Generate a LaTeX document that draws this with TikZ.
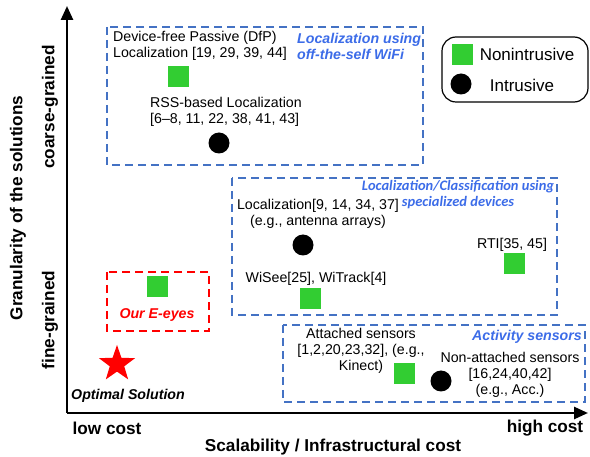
\documentclass[tikz,border=0pt]{standalone}
\usepackage{fontspec}
\setmainfont{Liberation Sans}
\newfontfamily\calibrilike{Carlito}
\usetikzlibrary{shapes.geometric,arrows.meta}
\definecolor{boxblue}{RGB}{68,114,196}
\definecolor{labelblue}{RGB}{60,108,232}
\definecolor{limegreen}{RGB}{50,205,50}

\begin{document}
\begin{tikzpicture}[x=1pt, y=-1pt,
    every node/.style = {font=\fontsize{14.2}{16}\selectfont, align=center, inner sep=0pt},
    nonintr/.style = {fill=limegreen, minimum size=21pt},
    intr/.style = {circle, fill=black, minimum size=21pt},
    group/.style = {draw=boxblue, dash pattern=on 8pt off 5pt, line width=1.3pt},
    ours/.style = {draw=red, dash pattern=on 8pt off 5pt, line width=1.3pt},
    grouplabel/.style = {text=labelblue, font=\fontsize{14.2}{16}\selectfont\bfseries\itshape},
    axislabel/.style = {font=\fontsize{17.2}{20}\selectfont\bfseries},
    legendtext/.style = {font=\fontsize{17}{20}\selectfont},
    axis/.style = {line width=2.6pt, -{Triangle[length=14pt,width=12pt]}}]
    \useasboundingbox (0,0) rectangle (590,457);

    % axes
    \coordinate (origin) at (67,413);
    \coordinate (ytip) at (67,6);
    \coordinate (xtip) at (588,413);
    \draw[axis] (origin) -- (ytip);
    \draw[axis] (origin) -- (xtip);
    \node[axislabel] (lowcost) at (107,428) {low cost};
    \node[axislabel] (highcost) at (545,428) {high cost};
    \node[axislabel] (xlabel) at (333,447) {Scalability / Infrastructural cost};
    \node[axislabel, rotate=90] (ylabel) at (18,208) {Granularity of the solutions};
    \node[axislabel, rotate=90] (coarse) at (50,107) {coarse-grained};
    \node[axislabel, rotate=90] (fine) at (50,320) {fine-grained};

    % off-the-shelf WiFi
    \draw[group] (107,27) rectangle (423,165);
    \node[anchor=west, align=left] (dfp) at (113,46) {Device-free Passive (DfP)\\Localization [19, 29, 39, 44]};
    \node[nonintr] (dfpmark) at (178,77) {};
    \node[anchor=west, align=left] (rss) at (150,112) {RSS-based Localization\\{[6--8, 11, 22, 38, 41, 43]}};
    \node[intr] (rssmark) at (219,143) {};
    \node[grouplabel, anchor=west, align=left] (wifi) at (297,46) {Localization using\\off-the-self WiFi};

    % legend
    \draw[line width=1.2pt, rounded corners=14pt] (442,37) rectangle (588,102);
    \node[nonintr] (legsq) at (462,55) {};
    \node[legendtext] (legsqtext) at (527,54) {Nonintrusive};
    \node[intr] (legci) at (461,84) {};
    \node[legendtext] (legcitext) at (522,85) {Intrusive};

    % specialized devices
    \draw[group] (232,178) rectangle (557,315);
    \node[grouplabel, font=\fontsize{14.5}{16}\calibrilike\bfseries\itshape] (special) at (458,195) {Localization/Classification using\\specialized devices};
    \node (array) at (318,214) {Localization[9, 14, 34, 37]\\(e.g., antenna arrays)};
    \node[intr] (arraymark) at (303,245) {};
    \node (rti) at (512,245) {RTI[35, 45]};
    \node[nonintr] (rtimark) at (514,264) {};
    \node (wisee) at (316,279) {WiSee[25], WiTrack[4]};
    \node[nonintr] (wiseemark) at (310,299) {};

    % ours
    \draw[ours] (107,272) rectangle (209,331);
    \node[nonintr] (eeyesmark) at (157,287) {};
    \node[font=\fontsize{14.2}{16}\selectfont\bfseries\itshape, text=red] (eeyes) at (157,315) {Our E-eyes};
    \node[star, star points=5, star point ratio=2.5, fill=red, minimum size=38pt] (optimal) at (117,364) {};
    \node[font=\fontsize{14.2}{16}\selectfont\bfseries\itshape] (optimaltext) at (128,396) {Optimal Solution};

    % activity sensors
    \draw[group] (283,325) rectangle (585,402);
    \node (attached) at (361,351) {Attached sensors\\{[1,2,20,23,32], (e.g.,}\\Kinect)};
    \node[nonintr] (attachedmark) at (404,374) {};
    \node[intr] (nonattachedmark) at (441,381) {};
    \node[grouplabel] (activity) at (527,337) {Activity sensors};
    \node (nonattached) at (510,375) {Non-attached sensors\\{[16,24,40,42]}\\(e.g., Acc.)};
\end{tikzpicture}
\end{document}
